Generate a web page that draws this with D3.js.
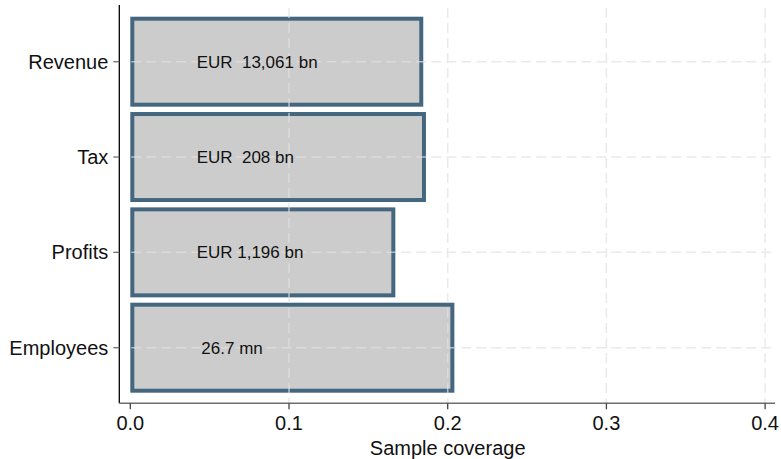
<!DOCTYPE html>
<html>
<head>
<meta charset="utf-8">
<script src="https://cdn.jsdelivr.net/npm/d3@7"></script>
<style>
  body { margin: 0; background: #fff; }
  text { font-family: "Liberation Sans", Arial, sans-serif; }
</style>
</head>
<body>
<svg id="chart" width="781" height="459"></svg>
<script>
// data
const categories = ['Revenue', 'Tax', 'Profits', 'Employees'];
const coverage = [0.1846, 0.1863, 0.1670, 0.2042];
const barLabels = ['EUR  13,061 bn', 'EUR  208 bn', 'EUR 1,196 bn', ' 26.7 mn'];
const xTicks = [0, 0.1, 0.2, 0.3, 0.4];
const labelAt = 0.0418;

const svg = d3.select('#chart');

const x = d3.scaleLinear().domain([0, 0.4]).range([130.3, 765.1]);
const y = d3.scaleBand().domain(categories).range([16.7, 392.7]).paddingInner(0.056);

const plotTop = 5, plotBottom = 403.3, axisLeft = 119.3, axisRight = 775;
const sw = 4;

const data = categories.map((c, i) => ({ name: c, value: coverage[i], label: barLabels[i] }));

// bars (outline drawn inside the value edge)
svg.append('g').selectAll('rect')
  .data(data)
  .enter()
  .append('rect')
  .attr('x', x(0) + sw / 2)
  .attr('y', d => y(d.name) + sw / 2)
  .attr('width', d => x(d.value) - x(0) - sw)
  .attr('height', y.bandwidth() - sw)
  .attr('fill', '#cccccc')
  .attr('stroke', '#44667f')
  .attr('stroke-width', sw);

// grid, faint and over the bars
const grid = svg.append('g').attr('stroke', '#e2e2e2').attr('stroke-width', 1.5)
  .attr('stroke-dasharray', '10,5').attr('opacity', 0.7);
grid.selectAll('.vg')
  .data(xTicks.slice(1))
  .enter()
  .append('line')
  .attr('x1', d => x(d)).attr('x2', d => x(d))
  .attr('y1', 8).attr('y2', plotBottom);
grid.selectAll('.hg')
  .data(categories)
  .enter()
  .append('line')
  .attr('x1', axisLeft + 12).attr('x2', axisRight)
  .attr('y1', d => y(d) + y.bandwidth() / 2)
  .attr('y2', d => y(d) + y.bandwidth() / 2);

// bar labels
svg.append('g').selectAll('text')
  .data(data)
  .enter()
  .append('text')
  .attr('x', x(labelAt))
  .attr('y', d => y(d.name) + y.bandwidth() / 2 + 6)
  .attr('font-size', 17)
  .attr('fill', '#111')
  .style('white-space', 'pre')
  .text(d => d.label);

// y axis
const yAxis = svg.append('g');
yAxis.append('line')
  .attr('x1', axisLeft).attr('x2', axisLeft)
  .attr('y1', plotTop).attr('y2', plotBottom)
  .attr('stroke', '#000').attr('stroke-width', 1.3);
yAxis.selectAll('.yt')
  .data(categories)
  .enter()
  .append('line')
  .attr('x1', axisLeft - 6).attr('x2', axisLeft)
  .attr('y1', d => y(d) + y.bandwidth() / 2)
  .attr('y2', d => y(d) + y.bandwidth() / 2)
  .attr('stroke', '#6e6e6e').attr('stroke-width', 1.3);
yAxis.selectAll('text')
  .data(categories)
  .enter()
  .append('text')
  .attr('x', axisLeft - 11)
  .attr('y', d => y(d) + y.bandwidth() / 2 + 7)
  .attr('text-anchor', 'end')
  .attr('font-size', 20)
  .attr('fill', '#111')
  .text(d => d);

// x axis
const xAxis = svg.append('g');
xAxis.append('line')
  .attr('x1', axisLeft).attr('x2', axisRight)
  .attr('y1', plotBottom).attr('y2', plotBottom)
  .attr('stroke', '#6e6e6e').attr('stroke-width', 1.5);
xAxis.selectAll('.xt')
  .data(xTicks)
  .enter()
  .append('line')
  .attr('x1', d => x(d)).attr('x2', d => x(d))
  .attr('y1', plotBottom).attr('y2', plotBottom + 6)
  .attr('stroke', '#444').attr('stroke-width', 1.3);
xAxis.selectAll('text')
  .data(xTicks)
  .enter()
  .append('text')
  .attr('x', d => x(d))
  .attr('y', 429.5)
  .attr('text-anchor', 'middle')
  .attr('font-size', 20)
  .attr('fill', '#111')
  .text(d => d3.format('.1f')(d));

svg.append('text')
  .attr('x', (x(0) + x(0.4)) / 2)
  .attr('y', 455)
  .attr('text-anchor', 'middle')
  .attr('font-size', 20)
  .attr('fill', '#111')
  .text('Sample coverage');
</script>
</body>
</html>
